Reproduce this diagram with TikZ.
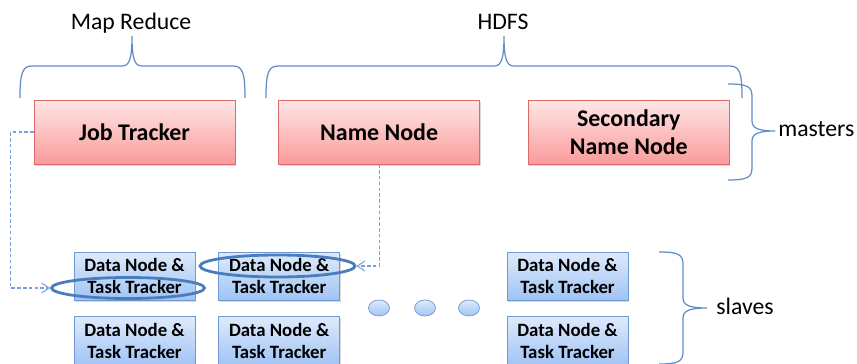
\documentclass[tikz,border=0pt]{standalone}
\usepackage{fontspec}
\setmainfont{Carlito}
\usepackage{xcolor}
\usetikzlibrary{arrows.meta,positioning,shadows,shapes.geometric}

\definecolor{mastertop}{RGB}{255,230,230}
\definecolor{masterbot}{RGB}{250,155,155}
\definecolor{masterline}{RGB}{222,105,105}
\definecolor{slavetop}{RGB}{222,234,251}
\definecolor{slavebot}{RGB}{160,196,245}
\definecolor{slaveline}{RGB}{112,152,212}
\definecolor{ringblue}{RGB}{74,126,187}
\definecolor{linkblue}{RGB}{120,160,215}
\definecolor{braceblue}{RGB}{95,140,200}

\begin{document}
\begin{tikzpicture}[
  x=0.02cm, y=-0.02cm,
  master/.style={rectangle,draw=masterline,top color=mastertop,bottom color=masterbot,minimum width=4.02cm,minimum height=1.28cm,align=center,font=\fontsize{13.6}{16}\selectfont\bfseries,drop shadow={shadow xshift=0.6pt,shadow yshift=-1pt,opacity=0.3}},
  slave/.style={rectangle,draw=slaveline,top color=slavetop,bottom color=slavebot,minimum width=2.42cm,minimum height=0.96cm,align=center,font=\fontsize{10.7}{12.5}\selectfont\bfseries,drop shadow={shadow xshift=0.6pt,shadow yshift=-1pt,opacity=0.3}},
  ring/.style={ellipse,draw=ringblue,line width=1.6pt,inner sep=0pt},
  dotnode/.style={ellipse,draw=slaveline,top color=slavetop,bottom color=slavebot,minimum width=0.42cm,minimum height=0.32cm,inner sep=0pt},
  link/.style={draw=linkblue,line width=0.6pt,dash pattern=on 2pt off 1.3pt,-{Straight Barb[length=1.5mm,width=2mm]}},
  curly/.style={draw=braceblue,line width=0.7pt},
  caption/.style={font=\fontsize{13.5}{15}\selectfont,inner sep=0pt}
]
  \useasboundingbox (0,0) rectangle (857,364);

  % masters
  \node[master] (jt) at (134.5,132) {Job Tracker};
  \node[master,right=0.86cm of jt] (nn) {Name Node};
  \node[master,right=0.96cm of nn] (snn) {Secondary\\Name Node};

  % slaves
  \node[slave] (d1) at (134.5,276) {Data Node \&\\Task Tracker};
  \node[slave,right=0.46cm of d1] (d2) {Data Node \&\\Task Tracker};
  \node[slave] (d3) at (567.5,276) {Data Node \&\\Task Tracker};
  \node[slave,below=0.32cm of d1] (d4) {Data Node \&\\Task Tracker};
  \node[slave,below=0.32cm of d2] (d5) {Data Node \&\\Task Tracker};
  \node[slave,below=0.32cm of d3] (d6) {Data Node \&\\Task Tracker};

  \node[dotnode] (g1) at (379,308) {};
  \node[dotnode] (g2) at (425,308) {};
  \node[dotnode] (g3) at (469,308) {};

  \node[ring,minimum width=3.06cm,minimum height=0.42cm] (r1) at (128,288) {};
  \node[ring,minimum width=3.1cm,minimum height=0.44cm] (r2) at (277.5,266) {};

  \draw[link] (jt.west) -- ++(-23,0) |- (r1.west);
  \draw[link] (nn.south) |- (r2.east);

  % braces
  \draw[curly] (20,98) .. controls (20,74) and (22,66) .. (32,66) -- (122,66)
    .. controls (129,66) and (132,60) .. (132,36) .. controls (132,60) and (135,66) .. (142,66)
    -- (233,66) .. controls (243,66) and (245,74) .. (245,98);
  \draw[curly] (266,98) .. controls (266,74) and (268,66) .. (278,66) -- (494,66)
    .. controls (501,66) and (504,60) .. (504,36) .. controls (504,60) and (507,66) .. (514,66)
    -- (730,66) .. controls (740,66) and (742,74) .. (742,98);
  \draw[curly] (728,84) .. controls (746,84) and (752,86) .. (752,96) -- (752,121)
    .. controls (752,128) and (758,131) .. (775,131) .. controls (758,131) and (752,134) .. (752,141)
    -- (752,168) .. controls (752,178) and (746,180) .. (728,180);
  \draw[curly] (659,252) .. controls (677,252) and (683,254) .. (683,264) -- (683,298)
    .. controls (683,305) and (689,308) .. (707,308) .. controls (689,308) and (683,311) .. (683,318)
    -- (683,352) .. controls (683,362) and (677,364) .. (659,364);

  \node[caption,anchor=base] (mr) at (131,30) {Map Reduce};
  \node[caption,anchor=base] (hdfs) at (503,30) {HDFS};
  \node[caption,anchor=base west] (mst) at (778,137) {masters};
  \node[caption,anchor=base west] (slv) at (716,314) {slaves};
\end{tikzpicture}
\end{document}
